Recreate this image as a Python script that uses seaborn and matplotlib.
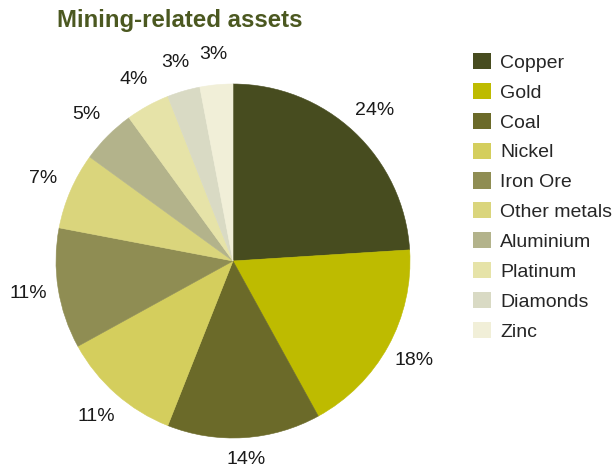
import matplotlib
matplotlib.use("Agg")
import matplotlib.pyplot as plt
from matplotlib.patches import Patch
import seaborn as sns

# Share of mining-related assets by commodity
categories = ["Copper", "Gold", "Coal", "Nickel", "Iron Ore",
              "Other metals", "Aluminium", "Platinum", "Diamonds", "Zinc"]
shares = [24, 18, 14, 11, 11, 7, 5, 4, 3, 3]
colors = ["#474c1f", "#bebb00", "#6b6a29", "#d4ce5d", "#8f8d53",
          "#dad57c", "#b3b38b", "#e6e3a8", "#d9dac4", "#f1efd8"]

sns.set_theme(style="white")
plt.rcParams["font.family"] = ["Liberation Sans", "DejaVu Sans"]

fig = plt.figure(figsize=(6.14, 4.68), dpi=100)
fig.patch.set_facecolor("white")

W, H = 614, 468
cx, cy, r = 233, 261, 177
ax = fig.add_axes([(cx - r) / W, (H - cy - r) / H, 2 * r / W, 2 * r / H])

wedges, texts = ax.pie(
    shares, colors=colors, startangle=90, counterclock=False,
    labels=[f"{v}%" for v in shares], labeldistance=1.17,
    wedgeprops=dict(linewidth=0),
    textprops=dict(fontsize=14, color="#1a1a1a"),
)
for w in wedges:
    # seal hairline gaps between neighbouring slices
    w.set_edgecolor(w.get_facecolor())
    w.set_linewidth(0.4)
for t in texts:
    t.set_clip_on(False)
    t.set_horizontalalignment("center")
    t.set_verticalalignment("center")
    x, y = t.get_position()
    # keep the lowest label inside the canvas
    if y < -1.12:
        t.set_position((x, -1.12))
ax.set_xlim(-1, 1)
ax.set_ylim(-1, 1)
ax.set_aspect("equal")
ax.axis("off")

fig.text(57 / W, 1 - 20 / H, "Mining-related assets", fontsize=17.3,
         fontweight="bold", color="#4b5820", ha="left", va="center")

handles = [Patch(facecolor=c, edgecolor="none") for c in colors]
fig.legend(handles, categories, loc="upper left",
           bbox_to_anchor=(473 / W, 1 - 53 / H), frameon=False,
           fontsize=14, handlelength=0.95, handleheight=0.9,
           handletextpad=0.45, labelspacing=0.57, borderaxespad=0,
           borderpad=0)

fig.savefig("out.png", dpi=100, facecolor="white")
